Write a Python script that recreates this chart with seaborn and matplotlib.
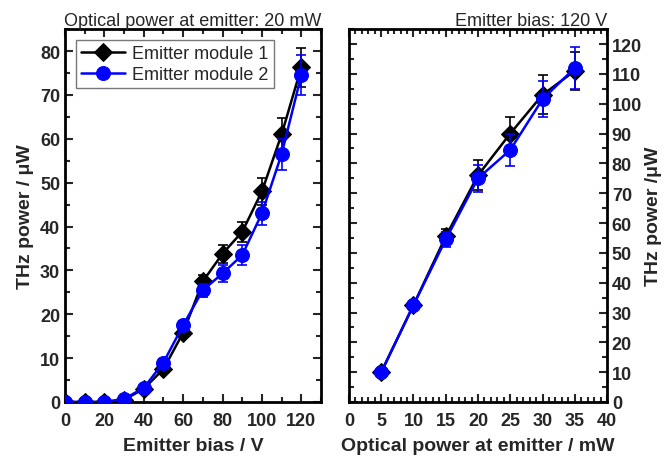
import numpy as np
import pandas as pd
import seaborn as sns
import matplotlib
matplotlib.use("Agg")
import matplotlib.pyplot as plt
from matplotlib.ticker import MultipleLocator

# ---- data ----
bias = [0, 10, 20, 30, 40, 50, 60, 70, 80, 90, 100, 110, 120]
bias_m1 = [0, 0, 0, 0.5, 3.0, 7.5, 15.8, 27.5, 33.8, 38.8, 48.0, 61.0, 76.3]
bias_m1_err = [0, 0, 0, 0.3, 0.5, 0.7, 1.0, 1.5, 2.0, 2.3, 3.0, 3.7, 4.5]
bias_m2 = [0, 0, 0, 0.7, 3.2, 9.0, 17.5, 25.5, 29.3, 33.5, 43.0, 56.5, 74.5]
bias_m2_err = [0, 0, 0, 0.3, 0.5, 0.7, 1.0, 1.5, 2.0, 2.3, 2.7, 3.5, 4.5]

optical = [5, 10, 15, 20, 25, 30, 35]
opt_m1 = [10.0, 32.5, 55.5, 76.0, 90.0, 103.0, 111.0]
opt_m1_err = [0.5, 1.2, 2.5, 5.0, 5.5, 6.5, 6.5]
opt_m2 = [10.0, 32.5, 54.5, 75.0, 84.5, 101.5, 112.0]
opt_m2_err = [0.5, 1.2, 2.5, 4.5, 5.5, 6.0, 7.0]

series_names = ["Emitter module 1", "Emitter module 2"]
colors = ["#000000", "#0000ff"]
markers = ["D", "o"]

sns.set_theme(style="ticks")
plt.rcParams['font.family'] = ['Liberation Sans', 'DejaVu Sans']
plt.rcParams['mathtext.fontset'] = 'dejavusans'

fig = plt.figure(figsize=(6.65, 4.64), dpi=100)
ax1 = fig.add_axes([0.0977, 0.1315, 0.385, 0.8035])
ax2 = fig.add_axes([0.5248, 0.1315, 0.388, 0.8035])

df_bias = pd.DataFrame({
    "x": bias * 2,
    "y": bias_m1 + bias_m2,
    "series": [series_names[0]] * len(bias) + [series_names[1]] * len(bias),
})
df_opt = pd.DataFrame({
    "x": optical * 2,
    "y": opt_m1 + opt_m2,
    "series": [series_names[0]] * len(optical) + [series_names[1]] * len(optical),
})

def draw(ax, df, xs, ys, errs):
    for i, name in enumerate(series_names):
        sub = df[df.series == name]
        sns.lineplot(data=sub, x="x", y="y", ax=ax, color=colors[i],
                     marker=markers[i], markersize=9 if markers[i] == "D" else 10,
                     markeredgecolor=colors[i], linewidth=1.8, label=name,
                     zorder=3 + i)
        ax.errorbar(xs, ys[i], yerr=errs[i], fmt="none", ecolor=colors[i],
                    elinewidth=1.2, capsize=3.5, capthick=1.2, zorder=2 + i)

draw(ax1, df_bias, bias, [bias_m1, bias_m2], [bias_m1_err, bias_m2_err])
draw(ax2, df_opt, optical, [opt_m1, opt_m2], [opt_m1_err, opt_m2_err])

TICK = 13
lab_font = dict(fontsize=14, fontweight="bold")

# left axes
ax1.set_xlim(0, 130)
ax1.set_ylim(0, 85)
ax1.xaxis.set_major_locator(MultipleLocator(20))
ax1.xaxis.set_minor_locator(MultipleLocator(10))
ax1.yaxis.set_major_locator(MultipleLocator(10))
ax1.yaxis.set_minor_locator(MultipleLocator(5))
ax1.set_xlabel("Emitter bias / V", **lab_font, labelpad=6)
ax1.set_ylabel("THz power / μW", **lab_font, labelpad=4)
ax1.set_title("Optical power at emitter: 20 mW", fontsize=13, pad=3)
ax1.tick_params(which="both", direction="in", top=True, right=True, width=1.5)
ax1.tick_params(which="major", length=6)
ax1.tick_params(which="minor", length=3.5)
ax1.tick_params(axis="x", which="major", pad=7)
for lbl in ax1.get_xticklabels() + ax1.get_yticklabels():
    lbl.set_fontsize(TICK); lbl.set_fontweight("bold")

leg = ax1.legend(loc="upper left", fontsize=13, frameon=True, fancybox=False,
                 handlelength=2.4, borderpad=0.3, labelspacing=0.2,
                 borderaxespad=0.6, handletextpad=0.4)
leg.get_frame().set_edgecolor("#555555")
leg.get_frame().set_linewidth(1.0)

# right axes
ax2.set_xlim(0, 40)
ax2.set_ylim(0, 125)
ax2.xaxis.set_major_locator(MultipleLocator(5))
ax2.xaxis.set_minor_locator(MultipleLocator(1))
ax2.yaxis.set_major_locator(MultipleLocator(10))
ax2.yaxis.set_minor_locator(MultipleLocator(5))
ax2.yaxis.tick_right()
ax2.yaxis.set_label_position("right")
ax2.set_xlabel("Optical power at emitter / mW", **lab_font, labelpad=6)
ax2.set_ylabel("THz power /μW", **lab_font, labelpad=2)
ax2.set_title("Emitter bias: 120 V", fontsize=13, loc="right", pad=3)
ax2.tick_params(which="both", direction="in", top=True, left=True, right=True, width=1.5)
ax2.tick_params(which="major", length=6)
ax2.tick_params(which="minor", length=3.5)
ax2.tick_params(axis="x", which="major", pad=7)
for lbl in ax2.get_xticklabels() + ax2.get_yticklabels():
    lbl.set_fontsize(TICK); lbl.set_fontweight("bold")
ax2.legend_.remove()

for ax in (ax1, ax2):
    for s in ax.spines.values():
        s.set_linewidth(2.0)
        s.set_color("black")

fig.savefig("out.png", dpi=100)
